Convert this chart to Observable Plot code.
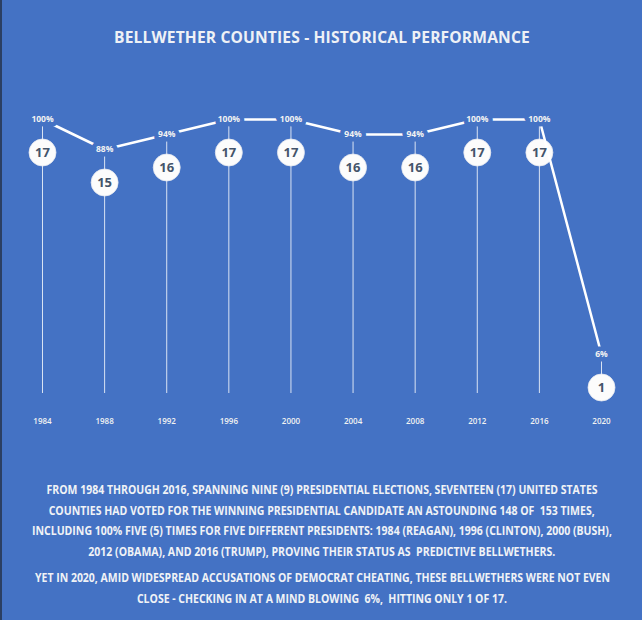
<!DOCTYPE html>
<html>
<head>
<meta charset="utf-8">
<script src="https://cdn.jsdelivr.net/npm/d3@7"></script>
<script src="https://cdn.jsdelivr.net/npm/@observablehq/plot@0.6"></script>
<style>
  html, body { margin: 0; padding: 0; }
  body {
    width: 642px; height: 620px; overflow: hidden;
    background: #4472c4;
    box-sizing: border-box;
    border-left: 2px solid #2b3f63;
    color: #f2f2f2;
  }
  #title {
    height: 60px; box-sizing: border-box;
    padding-top: 27px; line-height: 20px;
    text-align: center;
    font-family: "Open Sans", sans-serif;
    font-weight: 700; font-size: 15.6px;
    letter-spacing: 0.15px;
    color: #eef1f6;
    white-space: nowrap;
  }
  #chart svg { display: block; }
  #caption {
    padding-top: 40px;
    font-family: "Open Sans", sans-serif;
    font-weight: 700; font-size: 12.3px;
    line-height: 20.5px;
    color: #f0f2f6;
  }
  #caption p {
    margin: 0;
    display: flex; flex-direction: column; align-items: center;
  }
  #caption p + p { margin-top: 6px; }
  #caption span { display: block; white-space: pre; transform-origin: 50% 50%; }
</style>
</head>
<body>
<div id="title">BELLWETHER COUNTIES - HISTORICAL PERFORMANCE</div>
<div id="chart"></div>
<div id="caption"></div>
<script>
// Election years and how many of the 17 bellwether counties picked the winner
const years = [1984, 1988, 1992, 1996, 2000, 2004, 2008, 2012, 2016, 2020];
const hits = [17, 15, 16, 17, 17, 16, 16, 17, 17, 1];
const hitRate = [100, 88, 94, 100, 100, 94, 94, 100, 100, 6];

const captionLines = [
  [
    "FROM 1984 THROUGH 2016, SPANNING NINE (9) PRESIDENTIAL ELECTIONS, SEVENTEEN (17) UNITED STATES",
    "COUNTIES HAD VOTED FOR THE WINNING PRESIDENTIAL CANDIDATE AN ASTOUNDING 148 OF  153 TIMES,",
    "INCLUDING 100% FIVE (5) TIMES FOR FIVE DIFFERENT PRESIDENTS: 1984 (REAGAN), 1996 (CLINTON), 2000 (BUSH),",
    "2012 (OBAMA), AND 2016 (TRUMP), PROVING THEIR STATUS AS  PREDICTIVE BELLWETHERS."
  ],
  [
    "YET IN 2020, AMID WIDESPREAD ACCUSATIONS OF DEMOCRAT CHEATING, THESE BELLWETHERS WERE NOT EVEN",
    "CLOSE - CHECKING IN AT A MIND BLOWING  6%,  HITTING ONLY 1 OF 17."
  ]
];

const bg = "#4472c4";
const ink = "#f2f2f2";

const data = years.map((year, i) => ({year, hits: hits[i], rate: hitRate[i]}));

const chart = Plot.plot({
  width: 640,
  height: 380,
  marginLeft: 40,
  marginRight: 41,
  marginTop: 59,
  marginBottom: 47,
  style: {background: "transparent", color: ink, overflow: "visible"},
  x: {domain: [1984, 2020], label: null, axis: null},
  // the frame runs a little below 0% so the stems reach down to the year row
  y: {domain: [-9.6, 100], label: null, axis: null},
  marks: [
    // stems running down from each rate label to the bottom of the frame
    Plot.ruleX(data, {x: "year", y1: "rate", y2: () => -9.6, stroke: "#ffffff", strokeOpacity: 0.8, strokeWidth: 1}),
    // count badges
    Plot.dot(data, {x: "year", y: "rate", dy: 33, r: 13.5, fill: "#fcfcfc", stroke: "#e6e9ef", strokeWidth: 0.8}),
    // hit-rate line
    Plot.line(data, {x: "year", y: "rate", stroke: "#ffffff", strokeWidth: 2.5}),
    // rate labels, haloed so the line breaks around them
    Plot.text(data, {
      x: "year", y: "rate", text: d => `${d.rate}%`,
      fill: ink, stroke: bg, strokeWidth: 9, paintOrder: "stroke",
      fontSize: 8.5, fontWeight: 700, fontFamily: "Open Sans"
    }),
    Plot.text(data, {
      x: "year", y: "rate", dy: 33, text: d => String(d.hits),
      fill: "#44546a", fontSize: 13, fontWeight: 700, fontFamily: "Open Sans"
    }),
    Plot.axisX(years, {
      tickSize: 0, tickPadding: 25, tickFormat: d => String(d), label: null,
      fontSize: 8, fontWeight: 600, fontFamily: "Open Sans", fill: ink
    })
  ]
});
document.getElementById("chart").append(chart);

// caption: one line per span, each squeezed to a condensed set width
const lineWidths = [[551, 546, 580, 467], [575, 370]];
const cap = document.getElementById("caption");
captionLines.forEach((para, pi) => {
  const p = document.createElement("p");
  cap.append(p);
  para.forEach((line, li) => {
    const s = document.createElement("span");
    s.textContent = line;
    p.append(s);
    const w = s.getBoundingClientRect().width;
    s.style.transform = `scaleX(${lineWidths[pi][li] / w})`;
  });
});
</script>
</body>
</html>
